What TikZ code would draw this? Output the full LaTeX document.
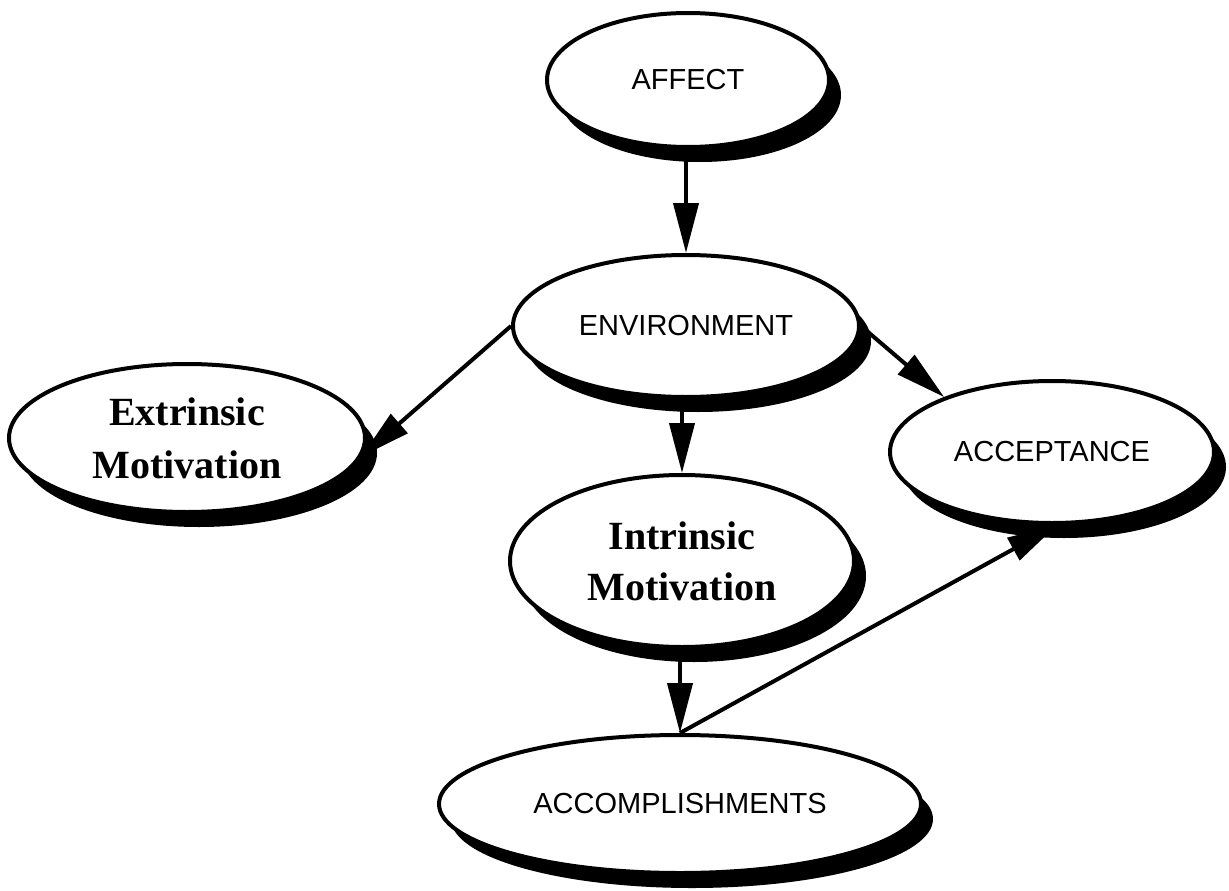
\documentclass[tikz,border=0pt]{standalone}
\usepackage{fontspec}
\setmainfont{Liberation Serif}
\setsansfont{Liberation Sans}
\usetikzlibrary{arrows.meta,shapes.geometric,shadows}
\begin{document}
\begin{tikzpicture}[x=1pt,y=-1pt,
  bubble/.style={ellipse, draw=black, line width=4pt, fill=white, inner sep=0pt,
    drop shadow={opacity=1, fill=black, shadow xshift=12pt, shadow yshift=-15pt}},
  sanslabel/.style={font=\sffamily\fontsize{29}{34}\selectfont},
  seriflabel/.style={font=\bfseries\fontsize{40}{53}\selectfont, align=center},
  conn/.style={line width=4pt, -{Triangle[length=50pt,width=25pt]}}
]
\useasboundingbox[fill=white] (0,0) rectangle (1229,891);

\node[bubble, sanslabel, minimum width=282pt, minimum height=134pt] (affect) at (688,80) {AFFECT};
\node[bubble, sanslabel, minimum width=346pt, minimum height=142pt] (env) at (686,326) {ENVIRONMENT};
\node[bubble, seriflabel, minimum width=356pt, minimum height=148pt] (ext) at (187,438) {Extrinsic\\Motivation};
\node[bubble, sanslabel, minimum width=324pt, minimum height=142pt] (accept) at (1052,452) {ACCEPTANCE};
\node[bubble, seriflabel, minimum width=344pt, minimum height=172pt] (intr) at (682,561) {Intrinsic\\[-2pt]Motivation};
\node[bubble, sanslabel, minimum width=482pt, minimum height=138pt] (acc) at (680,804) {ACCOMPLISHMENTS};

\draw[conn] (affect.south -| env.north) -- (env.north);
\draw[conn] (env.west) -- (ext.-6);
\draw[conn] (env.east) -- (accept.153);
\draw[conn] (env.south -| intr.north) -- (intr.north);
\draw[conn] (intr.south -| acc.north) -- (acc.north);
\draw[conn] (acc.north) -- (accept.-86);
\end{tikzpicture}
\end{document}
